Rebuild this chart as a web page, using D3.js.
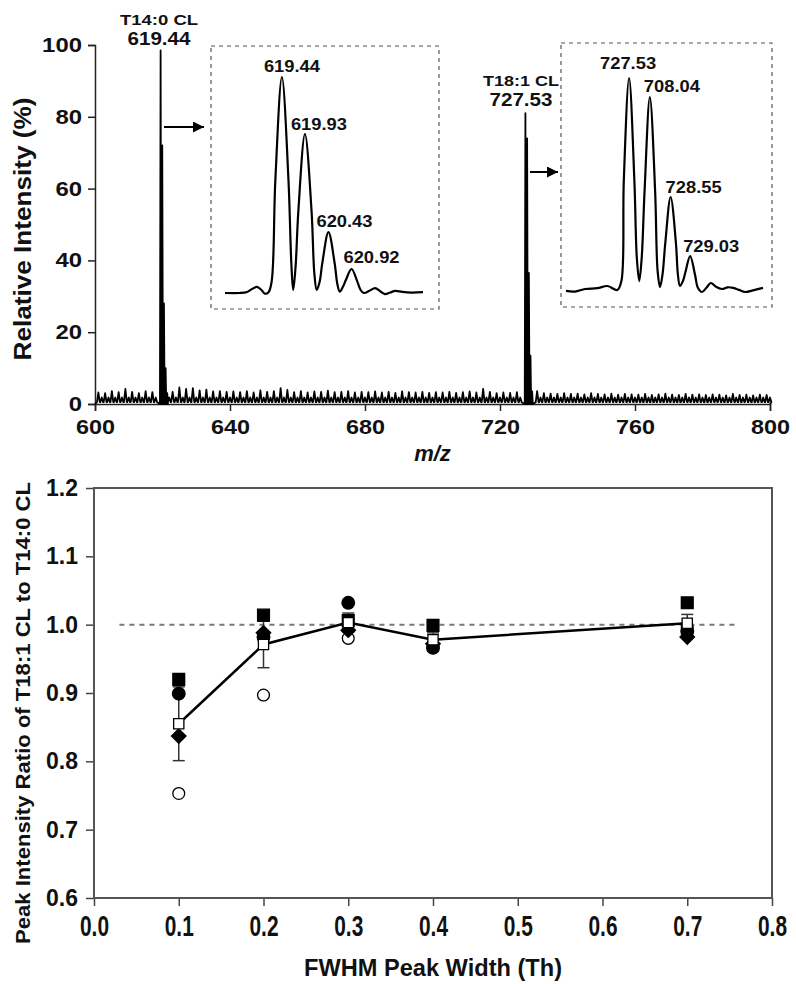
<!DOCTYPE html>
<html><head><meta charset="utf-8">
<script src="https://cdn.jsdelivr.net/npm/d3@7"></script>
<style>
html,body{margin:0;padding:0;background:#fff;}
svg text{font-family:"Liberation Sans",Arial,Helvetica,sans-serif;font-weight:bold;fill:#111;}
</style></head><body>
<svg id="chart" width="796" height="984"></svg>
<script>
// ---------------- DATA ----------------
// Top panel: mass spectrum
const mzTicks = [600, 640, 680, 720, 760, 800];
const intensityTicks = [0, 20, 40, 60, 80, 100];
// main isotope clusters (m/z, relative intensity %)
const cluster14Mz = [619.44, 619.93, 620.43, 620.92, 621.41];
const cluster14I  = [98.5, 72, 28, 10, 3];
const cluster18Mz = [727.53, 728.04, 728.55, 729.03, 729.52];
const cluster18I  = [81, 74, 36.5, 13.5, 3.5];
// background chemical-noise comb (one peak every 2 Th from m/z 601)
const noiseStartMz = 601;
const noiseHeights = [
  3.2,3.0,3.6,3.3,4.2,3.4,3.0,3.6,3.3,3.0,
  3.6,3.4,4.6,4.2,4.4,3.8,4.0,3.5,3.6,3.4,
  3.5,3.3,3.6,3.2,3.8,3.4,3.6,4.4,3.9,3.3,
  3.6,3.2,3.5,3.4,3.7,3.3,3.4,3.6,3.2,3.4,
  3.3,3.5,3.2,3.4,3.1,3.5,3.3,3.2,3.4,3.1,
  3.3,3.2,3.4,3.1,3.3,3.5,3.2,4.2,3.4,3.0,
  3.2,3.1,3.3,3.0,2.8,3.6,3.0,2.9,2.8,3.0,
  2.8,2.9,2.7,3.0,2.8,2.7,2.9,2.6,2.8,2.7,
  2.6,2.8,2.5,2.7,2.9,2.6,2.5,2.8,2.6,2.7,
  2.5,2.7,2.6,2.4,2.8,2.5,2.6,2.4,2.6,2.5];
const noiseFloor = 1.8;
const noiseBase = 0.5;

// Inset 1 (T14:0 CL zoom)
const inset1Mz = [618.23,618.55,618.70,618.80,618.91,619.00,619.08,619.15,619.22,619.30,619.44,619.58,619.64,619.68,619.73,619.79,619.93,620.07,620.13,620.18,620.24,620.30,620.43,620.56,620.62,620.67,620.74,620.80,620.92,621.04,621.11,621.18,621.30,621.42,621.53,621.63,621.74,621.85,622.00,622.20,622.44];
const inset1I  = [0,0,0.5,1.8,2.8,1.5,-0.3,0.2,5,52,100,52,14,1.4,12,38,73.6,38,9,1.4,5,14,28.2,14,4,0.6,3,6,11.1,5.5,1.5,0,1,2.3,0.8,-0.5,0.2,1,0.5,0.2,0.4];
const inset1PeakMz = [619.44, 619.93, 620.43, 620.92];
const inset1Labels = ["619.44", "619.93", "620.43", "620.92"];
const inset1LabelI = [102.3, 75.5, 30.6, 13.9];

// Inset 2 (T18:1 CL zoom)
const inset2Mz = [725.98,726.20,726.45,726.75,727.00,727.24,727.34,727.40,727.53,727.66,727.72,727.78,727.84,727.91,728.04,728.17,728.23,728.29,728.35,728.42,728.55,728.68,728.73,728.78,728.85,728.91,729.03,729.15,729.22,729.32,729.43,729.54,729.66,729.81,729.95,730.09,730.23,730.38,730.60,730.82];
const inset2I  = [0.5,0.2,1.4,1.8,2.8,0.9,5,52,100,52,16,5.1,16,47,91.1,47,10,2.3,8,23,44.4,23,8,2.8,5,9,16.8,8,2,0,2,4.2,2.5,1.4,2.2,1.9,1.0,0,0.9,1.9];
const inset2PeakMz = [727.53, 728.04, 728.55, 729.03];
const inset2Labels = ["727.53", "708.04", "728.55", "729.03"];
const inset2LabelI = [104.2, 93.5, 46.3, 18.7];

// Bottom panel: peak intensity ratio vs FWHM
const fwhm = [0.1, 0.2, 0.3, 0.4, 0.7];
const ratioMean   = [0.855, 0.971, 1.003, 0.978, 1.002];   // open squares + line
const ratioErr    = [0.054, 0.034, 0.014, 0.010, 0.013];
const ratioSqFill = [0.920, 1.014, 1.006, 0.999, 1.032];   // filled squares
const ratioCircFill = [0.899, 0.982, 1.032, 0.966, 0.990]; // filled circles
const ratioDiamond  = [0.837, 0.988, 0.992, 0.972, 0.982]; // filled diamonds
const ratioCircOpen = [0.753, 0.897, 0.980, 0.970, 0.996]; // open circles
const fwhmTicks  = [0, 0.1, 0.2, 0.3, 0.4, 0.5, 0.6, 0.7, 0.8];
const ratioTicks = [0.6, 0.7, 0.8, 0.9, 1.0, 1.1, 1.2];
const refRatio = 1.0;
const refRange = [0.03, 0.76];

// ---------------- DRAW ----------------
const svg = d3.select("#chart");

// ===== Top panel =====
const x1 = d3.scaleLinear().domain([600, 800]).range([95, 770]);
const y1 = d3.scaleLinear().domain([0, 100]).range([404, 45]);

// build spectrum profile
const peaks = [];
noiseHeights.forEach((h, i) => {
  const mz = noiseStartMz + 2 * i;
  if (Math.abs(mz - 619.5) < 1.5 || Math.abs(mz - 727.6) < 1.5) return;
  peaks.push([mz, h, noiseBase]);
  peaks.push([mz + 1, noiseFloor, noiseBase]);
});
cluster14Mz.forEach((m, i) => peaks.push([m, cluster14I[i], 0]));
cluster18Mz.forEach((m, i) => peaks.push([m, cluster18I[i], 0]));
peaks.sort((a, b) => a[0] - b[0]);
const prof = [[600, 0]];
peaks.forEach(([m, h, b]) => {
  const w = b > 0 ? 0.42 : 0.2;
  prof.push([m - w, b]);
  prof.push([m, h]);
  prof.push([m + w, b]);
});
prof.push([800, 0]);

// axes
const gx1 = svg.append("g").attr("transform", "translate(0,404)")
  .call(d3.axisBottom(x1).tickValues(mzTicks).tickSize(7).tickPadding(8).tickFormat(d3.format("d")));
const gy1 = svg.append("g").attr("transform", "translate(95,0)")
  .call(d3.axisLeft(y1).tickValues(intensityTicks).tickSize(7).tickPadding(6).tickFormat(d3.format("d")));
[gx1, gy1].forEach(g => {
  g.select(".domain").attr("stroke", "#222").attr("stroke-width", 1.5);
  g.selectAll(".tick line").attr("stroke", "#222").attr("stroke-width", 1.5);
});
gx1.selectAll("text").attr("font-size", 21).attr("fill", "#111")
  .attr("textLength", d => String(d).length * 13).attr("lengthAdjust", "spacingAndGlyphs");
gy1.selectAll("text").attr("font-size", 20).attr("fill", "#111")
  .attr("textLength", d => String(d).length * 13.3).attr("lengthAdjust", "spacingAndGlyphs");

svg.append("path").datum(prof)
  .attr("d", d3.line().x(d => x1(d[0])).y(d => y1(d[1])))
  .attr("fill", "none").attr("stroke", "#000").attr("stroke-width", 1.8)
  .attr("stroke-linejoin", "round");

// axis titles
svg.append("text").attr("transform", "translate(31,229) rotate(-90)")
  .attr("text-anchor", "middle").attr("font-size", 23)
  .attr("textLength", 263).attr("lengthAdjust", "spacingAndGlyphs")
  .text("Relative Intensity (%)");
svg.append("text").attr("x", x1(700)).attr("y", 461).attr("text-anchor", "middle")
  .attr("font-size", 22).attr("font-style", "italic").text("m/z");

// peak labels
function lab(x, y, fs, len, t) {
  svg.append("text").attr("x", x).attr("y", y).attr("text-anchor", "middle")
    .attr("font-size", fs).attr("textLength", len).attr("lengthAdjust", "spacingAndGlyphs").text(t);
}
lab(159, 25, 14, 78, "T14:0 CL");
lab(159, 45, 19, 63, "619.44");
lab(521, 86, 15, 76, "T18:1 CL");
lab(521, 106, 19, 63, "727.53");

// arrows
const defs = svg.append("defs");
defs.append("marker").attr("id", "ah").attr("viewBox", "0 0 10 10")
  .attr("refX", 10).attr("refY", 5).attr("markerWidth", 13).attr("markerHeight", 11)
  .attr("markerUnits", "userSpaceOnUse").attr("orient", "auto")
  .append("path").attr("d", "M0,0L10,5L0,10Z").attr("fill", "#000");
[[164, 204, 127], [530, 558, 172]].forEach(([a, b, y]) => {
  svg.append("line").attr("x1", a).attr("x2", b).attr("y1", y).attr("y2", y)
    .attr("stroke", "#000").attr("stroke-width", 2).attr("marker-end", "url(#ah)");
});

// insets
function inset(box, xd, xr, yr, mz, inten, pk, labels, labI, dxs) {
  svg.append("rect").attr("x", box[0]).attr("y", box[1])
    .attr("width", box[2] - box[0]).attr("height", box[3] - box[1])
    .attr("fill", "none").attr("stroke", "#555").attr("stroke-width", 1.2)
    .attr("stroke-dasharray", "4,4");
  const xs = d3.scaleLinear().domain(xd).range(xr);
  const ys = d3.scaleLinear().domain([0, 100]).range(yr);
  svg.append("path").datum(mz.map((m, i) => [m, inten[i]]))
    .attr("d", d3.line().x(d => xs(d[0])).y(d => ys(d[1])).curve(d3.curveCatmullRom.alpha(0.5)))
    .attr("fill", "none").attr("stroke", "#000").attr("stroke-width", 2.2);
  pk.forEach((m, i) => {
    svg.append("text").attr("x", xs(m) + dxs[i]).attr("y", ys(labI[i]))
      .attr("text-anchor", "middle").attr("font-size", 16)
      .attr("textLength", 56).attr("lengthAdjust", "spacingAndGlyphs").text(labels[i]);
  });
}
inset([211, 46, 439, 309], [618.23, 622.44], [225, 423], [293, 77],
  inset1Mz, inset1I, inset1PeakMz, inset1Labels, inset1LabelI, [10, 14, 16, 20]);
inset([561, 43, 772, 307], [725.98, 730.82], [566, 763], [292, 78],
  inset2Mz, inset2I, inset2PeakMz, inset2Labels, inset2LabelI, [-1, 22, 23, 21]);

// ===== Bottom panel =====
const x2 = d3.scaleLinear().domain([0, 0.8]).range([94, 772]);
const y2 = d3.scaleLinear().domain([0.6, 1.2]).range([898, 488]);

const gx2 = svg.append("g").attr("transform", "translate(0,898)")
  .call(d3.axisBottom(x2).tickValues(fwhmTicks).tickSize(8).tickPadding(8).tickFormat(d3.format(".1f")));
const gy2 = svg.append("g").attr("transform", "translate(94,0)")
  .call(d3.axisLeft(y2).tickValues(ratioTicks).tickSize(8).tickPadding(8).tickFormat(d3.format(".1f")));
[gx2, gy2].forEach(g => {
  g.select(".domain").remove();
  g.selectAll(".tick line").attr("stroke", "#444").attr("stroke-width", 1.5);
});
gx2.selectAll(".tick text").attr("font-size", 22).attr("fill", "#111")
  .attr("y", 0).attr("dy", 0)
  .attr("transform", "translate(0,38) scale(0.95,1.3)");
gy2.selectAll("text").attr("font-size", 23).attr("fill", "#111");
// frame
svg.append("rect").attr("x", 94).attr("y", 488).attr("width", 772 - 94).attr("height", 898 - 488)
  .attr("fill", "none").attr("stroke", "#555").attr("stroke-width", 2);

// reference dashed line
svg.append("line").attr("x1", x2(refRange[0])).attr("x2", x2(refRange[1]))
  .attr("y1", y2(refRatio)).attr("y2", y2(refRatio))
  .attr("stroke", "#777").attr("stroke-width", 2).attr("stroke-dasharray", "5,5");

// error bars
fwhm.forEach((f, i) => {
  const cx = x2(f);
  const lo = y2(ratioMean[i] - ratioErr[i]), hi = y2(ratioMean[i] + ratioErr[i]);
  svg.append("line").attr("x1", cx).attr("x2", cx).attr("y1", lo).attr("y2", hi)
    .attr("stroke", "#333").attr("stroke-width", 1.5);
  [lo, hi].forEach(yy => svg.append("line").attr("x1", cx - 6).attr("x2", cx + 6)
    .attr("y1", yy).attr("y2", yy).attr("stroke", "#333").attr("stroke-width", 1.5));
});

// mean line
svg.append("path").datum(fwhm.map((f, i) => [f, ratioMean[i]]))
  .attr("d", d3.line().x(d => x2(d[0])).y(d => y2(d[1])))
  .attr("fill", "none").attr("stroke", "#000").attr("stroke-width", 2.5);

function markers(vals, type, size, fill, stroke, rot) {
  svg.append("g").selectAll("path").data(fwhm.map((f, i) => [f, vals[i]])).join("path")
    .attr("d", d3.symbol().type(type).size(size))
    .attr("transform", d => `translate(${x2(d[0])},${y2(d[1])}) rotate(${rot || 0})`)
    .attr("fill", fill).attr("stroke", stroke).attr("stroke-width", 1.3);
}
markers(ratioCircOpen, d3.symbolCircle, 110, "#fff", "#000");
markers(ratioCircFill, d3.symbolCircle, 125, "#000", "#000");
markers(ratioDiamond, d3.symbolSquare, 105, "#000", "#000", 45);
markers(ratioSqFill, d3.symbolSquare, 140, "#000", "#000");
markers(ratioMean, d3.symbolSquare, 105, "#fff", "#000");

// titles
svg.append("text").attr("transform", "translate(30,713) rotate(-90)")
  .attr("text-anchor", "middle").attr("font-size", 21)
  .attr("textLength", 462).attr("lengthAdjust", "spacingAndGlyphs")
  .text("Peak Intensity Ratio of T18:1 CL to T14:0 CL");
svg.append("text").attr("x", 433).attr("y", 976).attr("text-anchor", "middle")
  .attr("font-size", 24).attr("textLength", 258).attr("lengthAdjust", "spacingAndGlyphs")
  .text("FWHM Peak Width (Th)");
</script>
</body></html>
